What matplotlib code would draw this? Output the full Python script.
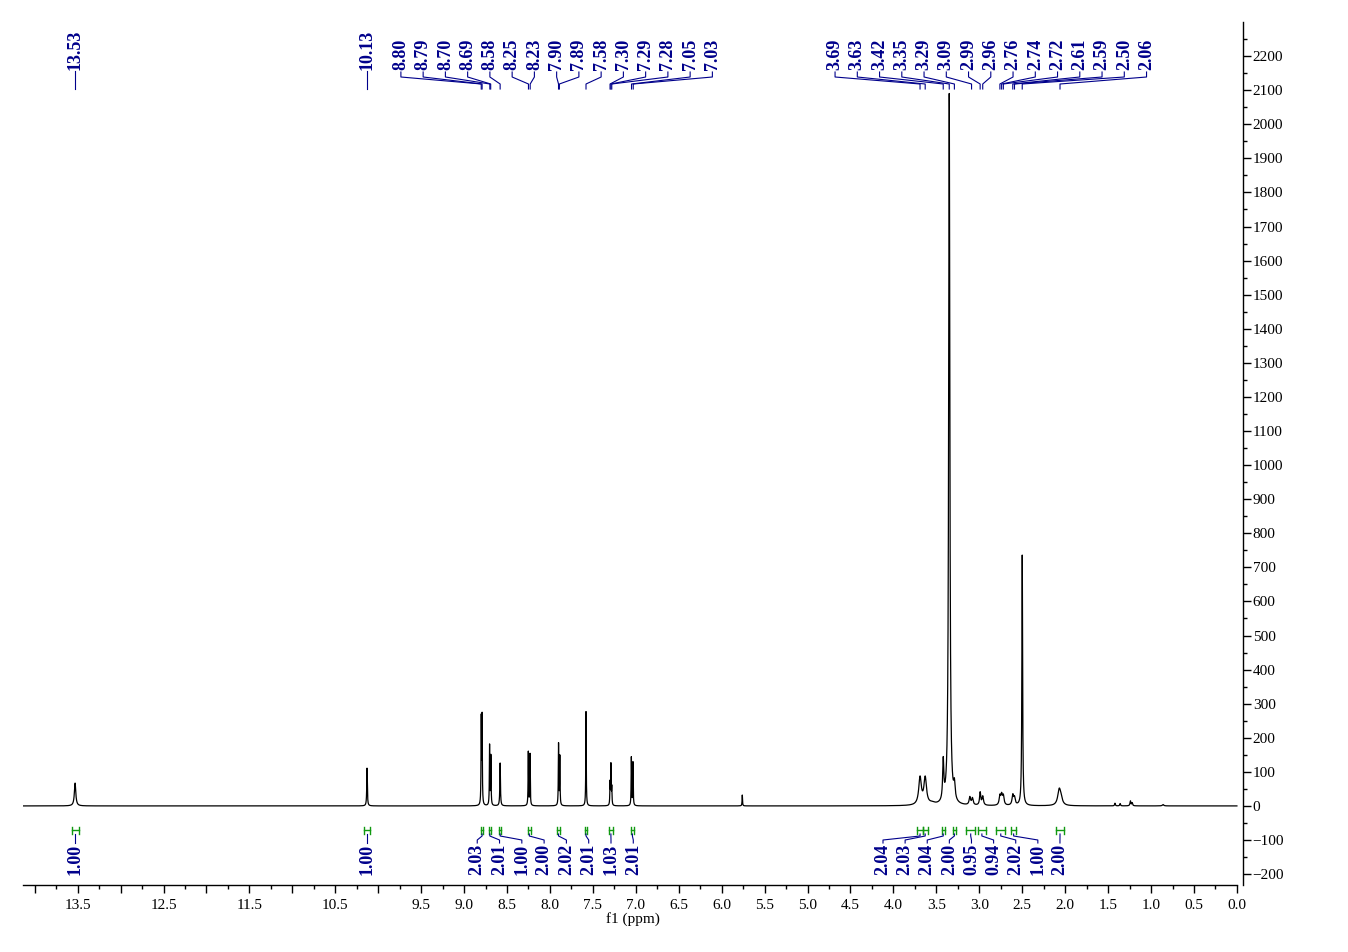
import matplotlib.pyplot as plt
import matplotlib.transforms as mtransforms
import numpy as np

plt.rcParams['font.family'] = ['Liberation Serif', 'DejaVu Serif']

# peaks: shift (ppm), height, half width at half height (ppm)
peak_ppm = np.array([13.53, 10.13,
                     8.800, 8.790, 8.703, 8.688, 8.580, 8.252, 8.232,
                     7.900, 7.885, 7.580, 7.300, 7.290, 7.280, 7.052, 7.033,
                     5.76,
                     3.69, 3.63, 3.55, 3.42, 3.35, 3.29,
                     3.11, 3.08, 2.99, 2.96, 2.76, 2.74, 2.72, 2.61, 2.59,
                     2.50, 2.07, 2.05,
                     1.42, 1.36, 1.24, 1.22, 0.86])
peak_height = np.array([67, 111,
                        270, 275, 182, 152, 126, 161, 155,
                        186, 150, 277, 76, 127, 62, 145, 130,
                        32,
                        88, 88, 14, 145, 2091, 82,
                        28, 25, 42, 30, 35, 40, 35, 36, 30,
                        736, 52, 40,
                        8, 7, 15, 10, 4])
peak_hwhm = np.array([0.010, 0.004,
                      0.003, 0.003, 0.003, 0.003, 0.004, 0.003, 0.003,
                      0.003, 0.003, 0.003, 0.003, 0.003, 0.003, 0.003, 0.003,
                      0.003,
                      0.018, 0.018, 0.040, 0.008, 0.008, 0.010,
                      0.010, 0.010, 0.008, 0.010, 0.010, 0.010, 0.010, 0.010, 0.010,
                      0.005, 0.020, 0.020,
                      0.005, 0.005, 0.006, 0.006, 0.010])

# peak-picking labels above the trace
single_labels = ["13.53", "10.13"]
group1_labels = ["8.80", "8.79", "8.70", "8.69", "8.58", "8.25", "8.23", "7.90",
                 "7.89", "7.58", "7.30", "7.29", "7.28", "7.05", "7.03"]
group2_labels = ["3.69", "3.63", "3.42", "3.35", "3.29", "3.09", "2.99", "2.96",
                 "2.76", "2.74", "2.72", "2.61", "2.59", "2.50", "2.06"]

# integrals below the trace
integral_ppm = [13.53, 10.13,
                8.79, 8.70, 8.58, 8.24, 7.90, 7.58, 7.29, 7.04,
                3.69, 3.63, 3.42, 3.29, 3.10, 2.97, 2.75, 2.60, 2.06]
integral_width = [0.08, 0.06,
                  0.03, 0.03, 0.03, 0.04, 0.04, 0.03, 0.04, 0.04,
                  0.06, 0.06, 0.03, 0.03, 0.10, 0.10, 0.11, 0.05, 0.10]
integral_values = ["1.00", "1.00",
                   "2.03", "2.01", "1.00", "2.00", "2.02", "2.01", "1.03", "2.01",
                   "2.04", "2.03", "2.04", "2.00", "0.95", "0.94", "2.02", "1.00", "2.00"]

navy = '#00008B'
green = '#119911'
W, H = 1348, 952

# spectrum as a sum of lorentzians, amplitudes solved so the tops match the read heights
ppm = np.linspace(14.14, 0.0, 40000)


def lorentz(x, x0, w):
    return 1.0 / (1.0 + ((x - x0) / w) ** 2)


M = lorentz(peak_ppm[:, None], peak_ppm[None, :], peak_hwhm[None, :])
amp = np.linalg.solve(M, peak_height)
intensity = (amp[None, :] * lorentz(ppm[:, None], peak_ppm[None, :], peak_hwhm[None, :])).sum(axis=1)

fig = plt.figure(figsize=(W / 100, H / 100), dpi=100)
ax_left, ax_right, ax_top, ax_bottom = 22.7, 1243, 22, 885
ax = fig.add_axes([ax_left / W, (H - ax_bottom) / H, (ax_right - ax_left) / W, (ax_bottom - ax_top) / H])

ax.plot(ppm, intensity, color='black', lw=0.9)
ax.set_xlim(14.14, -0.071)
ax.set_ylim(-232, 2300)

for s in ['top', 'left']:
    ax.spines[s].set_visible(False)
ax.spines['bottom'].set_bounds(0.0, 14.14)
ax.spines['bottom'].set_linewidth(1.0)
ax.spines['right'].set_linewidth(1.0)

xt = np.arange(0, 14.01, 0.5)
ax.set_xticks(xt)
ax.set_xticklabels(['' if (v >= 10 and v % 1 == 0) else f'{v:.1f}' for v in xt])
ax.set_xticks(np.arange(0, 14.01, 0.25), minor=True)
ax.tick_params(axis='x', which='major', direction='out', length=6, width=1, labelsize=11, pad=4)
ax.tick_params(axis='x', which='minor', direction='out', length=3, width=1)
ax.set_xlabel('f1 (ppm)', fontsize=11, labelpad=0)

ax.yaxis.tick_right()
ax.set_yticks(np.arange(-200, 2201, 100))
ax.set_yticks(np.arange(-200, 2251, 50), minor=True)
ax.tick_params(axis='y', which='major', direction='out', length=6, width=1, labelsize=11, pad=1)
ax.tick_params(axis='y', which='minor', direction='out', length=3, width=1)

trans = mtransforms.blended_transform_factory(ax.transData, ax.transAxes)


def fy(ypx):
    return (ax_bottom - ypx) / (ax_bottom - ax_top)


label_font = dict(rotation=90, fontsize=13, fontweight='bold', color=navy,
                  ha='center', transform=trans)

# single peak labels
for lab in single_labels:
    p = float(lab)
    ax.plot([p, p], [fy(71), fy(89)], transform=trans, color=navy, lw=0.8, clip_on=False)
    ax.text(p, fy(70), lab, va='bottom', **label_font)

# grouped peak labels with connectors
for labels, center, step in [(group1_labels, 7.922, 0.2591), (group2_labels, 2.866, 0.2591)]:
    n = len(labels)
    xs = center + step * (np.arange(n) - (n - 1) / 2)[::-1]
    for lab, xl in zip(labels, xs):
        p = float(lab)
        ax.plot([xl, xl, p, p], [fy(72), fy(77), fy(84), fy(89)], transform=trans,
                color=navy, lw=0.8, clip_on=False)
        ax.text(xl, fy(70), lab, va='bottom', **label_font)

# integral brackets and values
label_x = list(integral_ppm[:2])
for center, step, n in [(7.938, 0.2596, 8), (3.091, 0.2576, 9)]:
    label_x += list(center + step * (np.arange(n) - (n - 1) / 2)[::-1])

for p, w, val, xl in zip(integral_ppm, integral_width, integral_values, label_x):
    a, b = p + w / 2, p - w / 2
    ax.plot([a, b], [fy(830), fy(830)], transform=trans, color=green, lw=1.0)
    ax.plot([a, a], [fy(826.5), fy(833.5)], transform=trans, color=green, lw=1.0)
    ax.plot([b, b], [fy(826.5), fy(833.5)], transform=trans, color=green, lw=1.0)
    ax.plot([p, p, xl, xl], [fy(834), fy(836), fy(840), fy(843)], transform=trans,
            color=navy, lw=0.8)
    ax.text(xl, fy(844), val, va='top', **label_font)

fig.savefig('out.png', dpi=100)
